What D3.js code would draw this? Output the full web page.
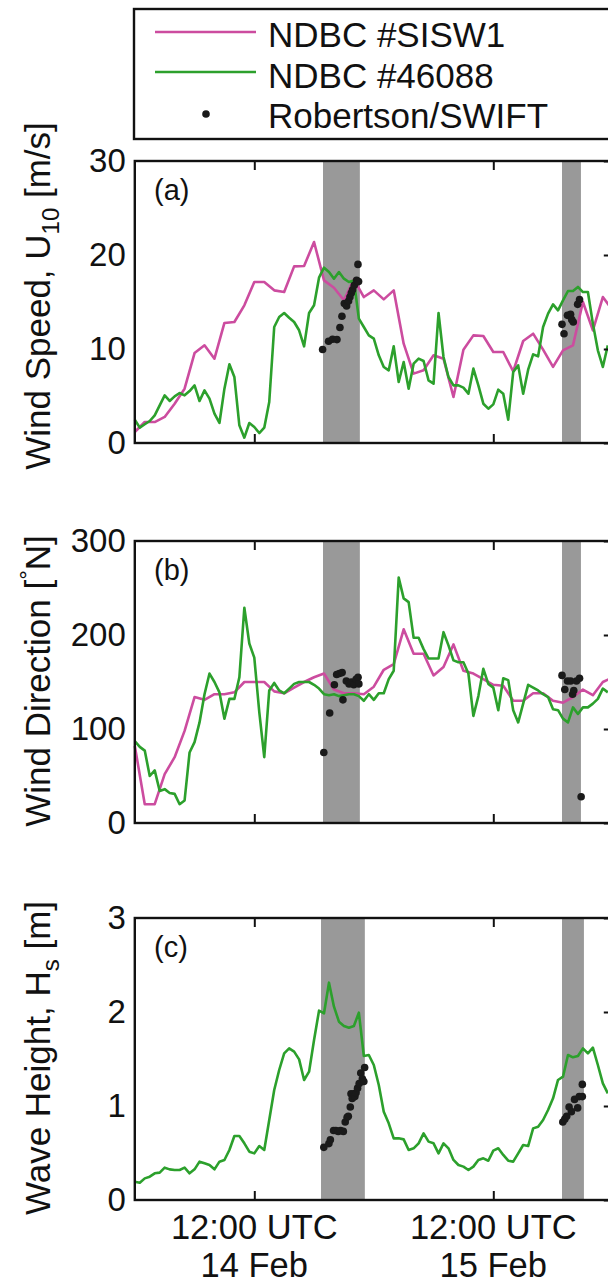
<!DOCTYPE html>
<html><head><meta charset="utf-8">
<script src="https://cdn.jsdelivr.net/npm/d3@7"></script>
<style>body{margin:0;background:#fff}svg{display:block;font-family:"Liberation Sans",Arial,Helvetica,sans-serif}</style>
</head><body><svg id="c" width="608" height="1284"></svg>
<script>
// ---- data (hours since 14 Feb 00:00 UTC) ----
const xTickHours = [12, 36];
const xTickLine1 = ["12:00 UTC", "12:00 UTC"];
const xTickLine2 = ["14 Feb", "15 Feb"];
const seriesNames = ["NDBC #SISW1", "NDBC #46088", "Robertson/SWIFT"];
const greenStep = 0.5, magentaStep = 1;

const bandsAB = [[18.9, 22.6], [42.9, 44.8]];
const bandsC = [[18.7, 23.1], [42.9, 45.1]];

// Wind speed (m/s)
const windSISW1 = [1.17,2.23,2.23,2.77,4.18,5.78,9.57,10.39,8.97,12.77,12.87,14.65,17.13,17.13,16.24,16.06,18.79,18.83,21.38,17.3,16.52,15.18,17.41,15.53,16.24,15.28,16.24,10.57,7.38,7.73,9.33,8.97,4.89,9.93,11.45,11.38,9.68,9.68,7.62,10.85,11.63,9.93,8.09,9.86,10.39,15.0,11.99,15.53,14.1];
const wind46088 = [2.48,1.63,1.99,2.34,2.94,4.01,5.07,4.47,4.96,5.32,5.07,5.53,6.13,4.47,5.6,4.72,3.12,2.13,5.78,8.37,7.02,1.88,0.57,2.13,1.7,1.06,1.63,4.36,12.34,13.4,13.83,13.33,12.87,11.99,10.28,13.83,14.65,17.59,18.65,18.19,17.48,18.19,17.48,17.13,17.3,13.23,12.34,11.45,11.1,9.33,8.09,7.73,10.28,6.49,8.62,5.78,8.44,8.97,8.72,6.67,6.31,13.83,9.15,7.02,6.13,6.13,5.89,5.25,7.91,6.13,4.18,3.65,4.11,5.67,5.25,2.48,7.55,8.26,5.25,7.8,9.43,9.22,12.34,13.76,14.75,14.11,15.18,16.17,16.17,16.6,16.06,16.06,12.7,9.86,8.09,10.39];
const windSwiftT = [18.86,19.46,19.86,20.3,20.6,20.8,21.04,21.27,21.47,21.6,21.74,21.87,22.04,22.27,22.47,22.41,42.9,43.1,43.45,43.76,43.88,44.03,44.47,44.66];
const windSwiftV = [9.94,10.82,11.03,11.0,12.28,13.48,14.83,14.57,15.1,15.53,15.96,16.3,16.78,17.3,17.17,19.0,12.62,11.63,13.58,13.69,13.12,12.87,14.75,15.25];

// Wind direction (deg N)
const dirSISW1 = [82,20,20,52,70,98,134,131,137,137,139,150,150,150,140,138,144,150,155,159,142,138,138,137,145,163,169,206,180,180,157,166,190,162,159,153,147,146,130,130,138,138,130,128,134,142,136,150,155];
const dir46088 = [87,81,77,50,56,34,36,32,31,20,24,75,86,107,137,159,150,139,111,132,132,155,229,191,176,118,70,141,149,141,138,143,148,150,150,150,147,143,137,136,137,135,136,137,137,135,130,137,131,138,138,153,162,261,239,235,197,197,185,175,175,175,203,189,173,171,171,159,114,135,164,148,144,120,154,152,120,107,127,147,144,141,137,134,121,120,111,107,123,116,123,123,127,132,143,139];
const dirSwiftT = [18.98,19.57,20.04,20.27,20.54,20.82,20.9,21.24,21.52,21.75,21.99,22.22,22.42,22.5,42.9,43.18,43.45,43.77,43.96,44.08,44.35,44.66,44.82];
const dirSwiftV = [75,117,147,158,159,160,131,151,148,150,147,153,155,148,157,142,151,151,137,141,151,154,28];

// Significant wave height (m)
const hs46088 = [0.195,0.184,0.23,0.248,0.284,0.291,0.344,0.326,0.319,0.319,0.344,0.284,0.326,0.408,0.39,0.372,0.326,0.408,0.426,0.532,0.681,0.681,0.603,0.514,0.496,0.574,0.532,0.851,1.17,1.383,1.56,1.613,1.578,1.496,1.277,1.365,1.702,2.014,1.986,2.312,2.057,1.897,1.851,1.833,1.851,1.993,1.532,1.543,1.436,1.223,0.94,0.816,0.656,0.656,0.645,0.532,0.55,0.603,0.709,0.621,0.603,0.496,0.603,0.55,0.426,0.372,0.355,0.319,0.355,0.426,0.443,0.418,0.525,0.55,0.479,0.418,0.408,0.496,0.585,0.574,0.762,0.78,0.851,0.957,1.082,1.277,1.312,1.543,1.518,1.532,1.613,1.56,1.621,1.436,1.241,1.135];
const hsSwiftT = [18.98,19.49,19.64,19.96,20.19,20.43,20.66,20.94,21.13,21.32,21.44,21.64,21.71,21.83,21.99,22.1,22.22,22.37,22.53,22.69,22.85,23.0,23.08,42.98,43.18,43.37,43.61,43.84,44.16,44.47,44.63,44.94,44.94];
const hsSwiftV = [0.56,0.6,0.64,0.74,0.74,0.73,0.74,0.73,0.83,0.88,0.89,0.99,1.13,1.08,1.13,1.1,1.14,1.19,1.24,1.35,1.29,1.26,1.41,0.83,0.86,0.89,0.99,0.94,1.07,0.98,1.1,1.1,1.23];

// ---- drawing ----
const MAG = "#cc4c9f", GRN = "#2ca02c", GRAY = "#999999", DOT = "#1a1a1a";
const svg = d3.select("#c");
svg.append("rect").attr("width",608).attr("height",1284).attr("fill","#fff");
const x = d3.scaleLinear().domain([0,48]).range([134.8, 612.8]);

const panels = [
  {key:"a", top:161, bottom:443, dom:[0,30], ticks:[0,10,20,30], bands:bandsAB,
   mag:windSISW1, grn:wind46088, dT:windSwiftT, dV:windSwiftV},
  {key:"b", top:541, bottom:823, dom:[0,300], ticks:[0,100,200,300], bands:bandsAB,
   mag:dirSISW1, grn:dir46088, dT:dirSwiftT, dV:dirSwiftV},
  {key:"c", top:918, bottom:1200, dom:[0,3], ticks:[0,1,2,3], bands:bandsC,
   mag:null, grn:hs46088, dT:hsSwiftT, dV:hsSwiftV}
];

panels.forEach(p => {
  const y = d3.scaleLinear().domain(p.dom).range([p.bottom, p.top]);
  const g = svg.append("g");
  g.selectAll("rect.band").data(p.bands).join("rect")
    .attr("x", d => x(d[0])).attr("width", d => x(d[1]) - x(d[0]))
    .attr("y", p.top).attr("height", p.bottom - p.top).attr("fill", GRAY);
  const line = (step) => d3.line().x((d,i) => x(i*step)).y(d => y(d));
  if (p.mag) g.append("path").datum(p.mag).attr("d", line(magentaStep))
    .attr("fill","none").attr("stroke",MAG).attr("stroke-width",2.6).attr("stroke-linejoin","round");
  g.append("path").datum(p.grn).attr("d", line(greenStep))
    .attr("fill","none").attr("stroke",GRN).attr("stroke-width",2.6).attr("stroke-linejoin","round");
  g.selectAll("circle").data(p.dT).join("circle")
    .attr("cx", d => x(d)).attr("cy", (d,i) => y(p.dV[i])).attr("r", 3.8).attr("fill", DOT);

  const tl = 9;
  const axB = svg.append("g").attr("transform",`translate(0,${p.bottom})`)
    .call(d3.axisBottom(x).tickValues(xTickHours).tickSize(-tl).tickFormat(""));
  const axT = svg.append("g").attr("transform",`translate(0,${p.top})`)
    .call(d3.axisTop(x).tickValues(xTickHours).tickSize(-tl).tickFormat(""));
  const axL = svg.append("g").attr("transform",`translate(${x(0)},0)`)
    .call(d3.axisLeft(y).tickValues(p.ticks).tickSize(0).tickPadding(9).tickFormat(d3.format("d")));
  const axR = svg.append("g").attr("transform",`translate(${x(48)},0)`)
    .call(d3.axisRight(y).tickValues(p.ticks).tickSize(-tl).tickFormat(""));
  [axB,axT,axL,axR].forEach(a => {
    a.select(".domain").remove();
    a.selectAll(".tick line").attr("stroke","#111").attr("stroke-width",2);
  });
  axL.selectAll(".tick text").attr("font-size",33).attr("fill","#111")
    .attr("font-family",'"Liberation Sans",Arial,sans-serif');
  svg.append("rect").attr("x",x(0)).attr("y",p.top).attr("width",x(48)-x(0)).attr("height",p.bottom-p.top)
    .attr("fill","none").attr("stroke","#111").attr("stroke-width",2.4);
  svg.append("text").attr("x",154).attr("y",p.top+39).attr("font-size",29).attr("fill","#111")
    .text(`(${p.key})`);
  if (p.key === "c") {
    xTickHours.forEach((h,i) => {
      svg.append("text").attr("x",x(h)).attr("y",1239).attr("text-anchor","middle")
        .attr("font-size",34.5).attr("fill","#111").text(xTickLine1[i]);
      svg.append("text").attr("x",x(h)).attr("y",1277).attr("text-anchor","middle")
        .attr("font-size",34.5).attr("fill","#111").text(xTickLine2[i]);
    });
  }
});

function ylabel(cy, parts) {
  const t = svg.append("text").attr("transform",`translate(50,${cy}) rotate(-90)`)
    .attr("text-anchor","middle").attr("font-size",35).attr("fill","#111");
  parts.forEach(pt => {
    const s = t.append("tspan").text(pt.t);
    if (pt.sub) s.attr("font-size",24).attr("dy",9);
    if (pt.sup) s.attr("font-size",24).attr("dy",-14);
    if (pt.back) s.attr("dy",pt.back);
  });
}
ylabel(296, [{t:"Wind Speed, U"},{t:"10",sub:true},{t:" [m/s]",back:-9}]);
ylabel(681, [{t:"Wind Direction ["},{t:"°",sup:true},{t:"N]",back:14}]);
ylabel(1058, [{t:"Wave Height, H"},{t:"s",sub:true},{t:" [m]",back:-9}]);

const lg = svg.append("g");
lg.append("rect").attr("x",134).attr("y",9).attr("width",600).attr("height",130)
  .attr("fill","#fff").attr("stroke","#111").attr("stroke-width",2.4);
const legY = [32, 72, 114];
const legBase = [47, 87.5, 128];
lg.append("line").attr("x1",155).attr("x2",256).attr("y1",legY[0]).attr("y2",legY[0]).attr("stroke",MAG).attr("stroke-width",2.6);
lg.append("line").attr("x1",155).attr("x2",256).attr("y1",legY[1]).attr("y2",legY[1]).attr("stroke",GRN).attr("stroke-width",2.6);
lg.append("circle").attr("cx",206).attr("cy",legY[2]).attr("r",3.8).attr("fill",DOT);
seriesNames.forEach((n,i) => lg.append("text").attr("x",268).attr("y",legBase[i]).attr("font-size",35).attr("fill","#111").text(n));
</script></body></html>
